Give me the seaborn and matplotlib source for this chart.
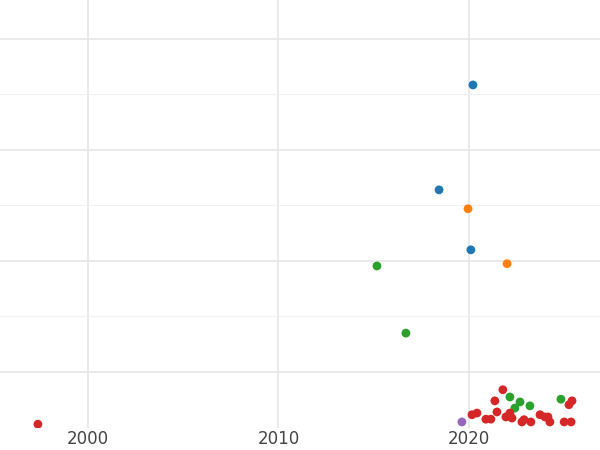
import seaborn as sns
import numpy as np
import pandas as pd
import matplotlib.pyplot as plt
from matplotlib.ticker import MultipleLocator

# values (year, arbitrary y units)
groups = ["blue", "orange", "green", "purple", "red"]
colors = {"blue": "#1f77b4", "orange": "#ff7f0e", "green": "#2ca02c",
          "purple": "#9467bd", "red": "#d62728"}

blue_x = [2020.21, 2018.43, 2020.10]
blue_y = [6.17, 4.28, 3.20]
orange_x = [2019.95, 2022.0]
orange_y = [3.94, 2.95]
green_x = [2015.17, 2016.69, 2022.15, 2022.68, 2022.41, 2023.20, 2024.83]
green_y = [2.91, 1.70, 0.55, 0.46, 0.35, 0.39, 0.51]
purple_x = [2019.63]
purple_y = [0.10]
red_x = [1997.37, 2020.16, 2020.42, 2020.89, 2021.15, 2021.36, 2021.47, 2021.78,
         2021.94, 2022.15, 2022.26, 2022.78, 2022.89, 2023.25, 2023.73, 2023.99,
         2024.15, 2024.25, 2025.0, 2025.25, 2025.41, 2025.36]
red_y = [0.06, 0.23, 0.26, 0.15, 0.15, 0.48, 0.28, 0.68, 0.19, 0.26, 0.17, 0.10,
         0.14, 0.10, 0.23, 0.19, 0.19, 0.10, 0.10, 0.41, 0.48, 0.10]

xs = [blue_x, orange_x, green_x, purple_x, red_x]
ys = [blue_y, orange_y, green_y, purple_y, red_y]
df = pd.DataFrame({
    "year": np.concatenate(xs),
    "value": np.concatenate(ys),
    "group": np.concatenate([[g] * len(x) for g, x in zip(groups, xs)]),
})

sns.set_style("whitegrid")
fig = plt.figure(figsize=(6, 4.5), dpi=100)
ax = fig.add_axes([0, 0.05, 1, 0.95])
sns.scatterplot(data=df, x="year", y="value", hue="group", palette=colors,
                s=40, edgecolor="none", legend=False, ax=ax, clip_on=True)

ax.set_xlim(1995.38, 2026.88)
ax.set_ylim(0, 7.70)
ax.xaxis.set_major_locator(MultipleLocator(10))
ax.yaxis.set_major_locator(MultipleLocator(2, offset=1))
ax.yaxis.set_minor_locator(MultipleLocator(1))
ax.grid(which="major", color="#e6e6e6", linewidth=1.2)
ax.grid(which="minor", axis="y", color="#f0f0f0", linewidth=0.8)
ax.set_yticklabels([])
ax.tick_params(axis="y", length=0, labelleft=False)
ax.tick_params(axis="x", length=0, labelsize=12, labelcolor="#444444", pad=2)
ax.set_xlabel("")
ax.set_ylabel("")
for s in ax.spines.values():
    s.set_visible(False)

fig.savefig("out.png", dpi=100)
